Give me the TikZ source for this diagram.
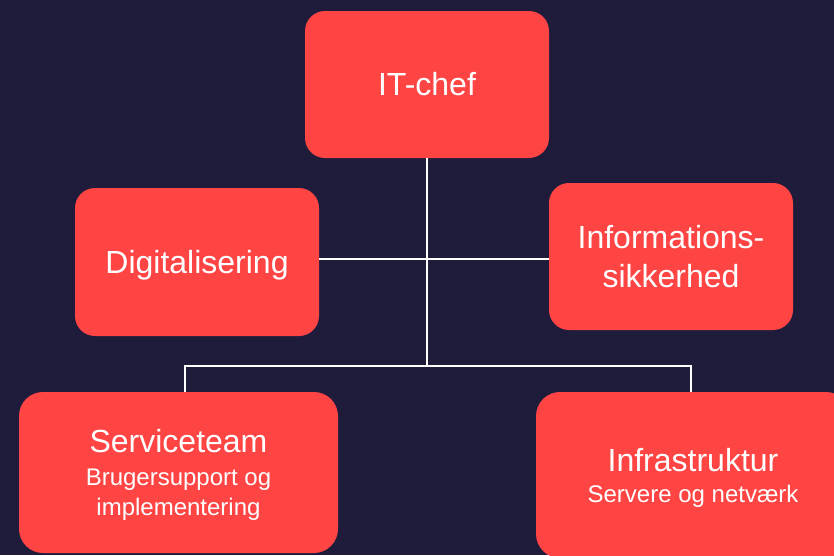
\documentclass[tikz,border=0pt]{standalone}
\usepackage{fontspec}
\setmainfont{Liberation Sans}
\usetikzlibrary{positioning}
\definecolor{bgnavy}{HTML}{1E1B3B}
\definecolor{boxred}{HTML}{FF4444}
\tikzset{
  unit/.style={rectangle, rounded corners=20pt, fill=boxred, text=white, inner sep=0pt, align=center,
    font=\fontsize{32}{39}\selectfont},
  link/.style={draw=white, line width=1.5pt},
}
\newcommand{\subsize}{\fontsize{24}{29}\selectfont}
\begin{document}
\begin{tikzpicture}[x=1pt, y=-1pt]
  % baggrund
  \fill[bgnavy] (0,0) rectangle (834,555);
  \useasboundingbox (0,0) rectangle (834,555);
  \clip (0,0) rectangle (834,555);

  % forbindelser
  \coordinate (hub) at (427,259);
  \coordinate (split) at (427,366);

  % enheder
  \node[unit, minimum width=244pt, minimum height=147pt] (chef) at (427,84.5) {IT-chef};
  \node[unit, text depth=0pt, minimum width=244pt, minimum height=148pt] (digi) at (197,262) {Digitalisering};
  \node[unit, minimum width=244pt, minimum height=147pt] (info) at (671,256.5) {Informations-\\sikkerhed};
  \node[unit, text depth=0pt, rounded corners=24pt, minimum width=319pt, minimum height=161pt] (service) at (178.5,472.5)
    {Serviceteam\\[-6pt]\subsize Brugersupport og\\[-9pt]\subsize implementering};
  \node[unit, text depth=0pt, rounded corners=24pt, minimum width=314pt, minimum height=166pt] (infra) at (693,475)
    {Infrastruktur\\[-8pt]\subsize Servere og netværk};

  \draw[link] (chef.south) -- (split);
  \draw[link] (digi.east |- hub) -- (info.west |- hub);
  \draw[link] ([xshift=6.5pt]service.north) |- (split) -| ([xshift=-2pt]infra.north);
\end{tikzpicture}
\end{document}
